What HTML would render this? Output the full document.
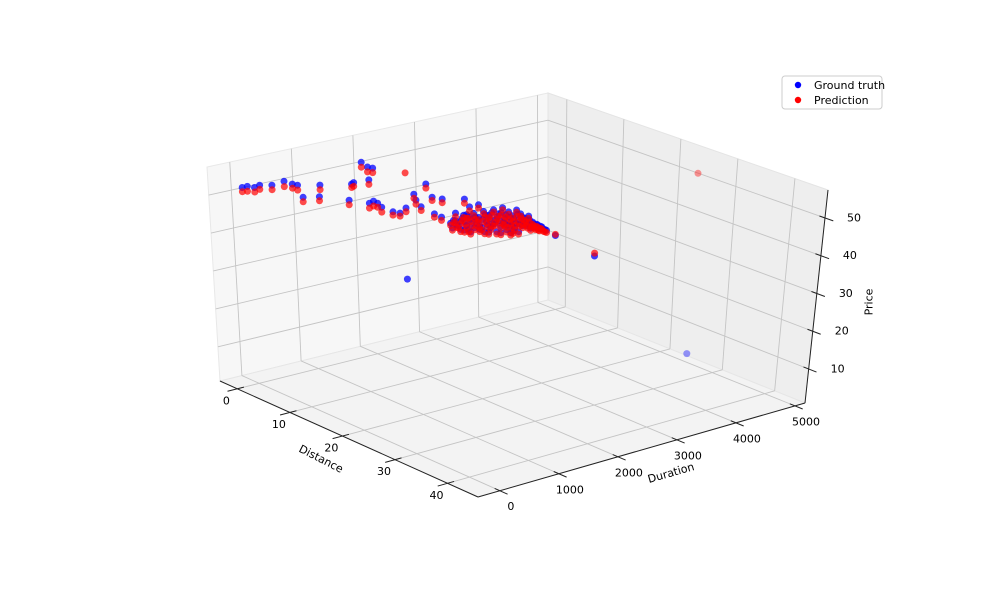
<!DOCTYPE html>
<html><head><meta charset="utf-8"><style>
html,body{margin:0;padding:0;background:#fff}
svg{display:block;font-family:"DejaVu Sans","Liberation Sans",sans-serif}
</style></head><body>
<svg id="chart" width="986" height="592" viewBox="0 0 986 592" xmlns="http://www.w3.org/2000/svg">
<g id="panes"></g>
<g id="grid"></g>
<g id="axes"></g>
<g id="points"></g>
<g>
<rect x="782" y="76" width="100" height="33" rx="3" fill="#fff" fill-opacity="0.8" stroke="#ccc" stroke-width="1"/>
<g>
<circle cx="798" cy="85" r="3.2" fill="#0000ff"/>
<text x="814" y="89" font-size="11" fill="#000">Ground truth</text></g>
<g>
<circle cx="798" cy="100" r="3.2" fill="#ff0000"/>
<text x="814" y="104" font-size="11" fill="#000">Prediction</text></g>
</g>
</svg>
<script>
// ---- data ----
const distance = [1,1,1,1,1,1,1,1,1,1,1,1,1,1,1,1,1,1,1,1,1,1,1,1,1,1,1,1,1,1,1,1,1,1,1,1,1,1,
 1,26.2,9,1,
 1,1,1,1,1,1,1,1,1,1,1,1,1,1,1,1,1,1,1,1,1,1,1,1,1,1,1,1,1,1,1,1,1,1,1,1,1,1,1,1,1,1,1,1,1,1,1,1,1,1,
 1,1,1,1,1,1,1,1,1,1,1,1,1,1,1,1,1,1,1,1,1,1,1,1,1,1,1,1,1,1,1,1,1,1,1,1,1,1,1,1,1,1,1,1,1,1];
const duration = [-205,-122,-6,77,275,474,606,689,771,1052,1036,1565,1598,1516,1731,1830,1913,1846,1846,1913,1979,2045,2227,2343,2442,2574,2607,2690,2773,2872,2905,3021,3037,3252,3401,3434,3484,3633,
 2440,4893,4838,4906,
 3170,3219,3269,3335,3385,3434,3500,3550,3600,3633,3682,3715,3765,3798,3831,3881,3914,3963,3996,4030,4063,4096,4129,4162,4195,4228,4261,4294,4327,4360,4394,4427,4460,4493,4526,4559,4592,4625,4658,4708,4758,3467,3732,3930,4162,4294,3864,4063,3567,3335,
 3200,3250,3300,3360,3410,3460,3520,3575,3610,3650,3700,3740,3780,3820,3850,3895,3940,3980,4010,4045,4080,4110,4145,4180,4210,4245,4275,4310,4345,4375,4410,4445,4475,4510,4545,4575,4610,4640,4680,4730,3500,3800,4000,4200,3650,3400];
const priceTruth = [53.9,53.9,53.2,53.5,52.8,53.1,51.9,51.3,47.8,50.0,47.0,48.4,48.7,44.3,53.6,52.0,51.4,48.5,42.3,42.6,41.8,40.5,38.6,37.8,38.8,42.0,40.3,38.2,44.0,40.1,35.5,34.2,39.0,34.4,37.6,33.3,35.2,35.2,
 19.8,4.4,21.2,22.0,
 32.0,32.6,31.1,31.9,33.3,30.4,31.8,33.2,30.3,31.8,28.9,33.1,30.2,31.7,28.3,32.9,30.1,31.5,28.1,32.9,30.0,26.7,31.4,28.6,30.1,26.7,31.4,28.6,30.1,26.8,28.7,27.0,29.0,25.6,27.1,25.9,26.3,25.1,25.5,24.5,24.0,29.2,27.6,26.8,25.6,25.4,29.2,28.4,29.3,29.7,
 30.6,32.4,30.8,32.6,31.4,32.8,30.6,32.1,31.2,29.6,31.0,32.1,29.2,30.8,32.2,29.1,30.8,29.6,31.6,28.9,30.8,27.9,29.9,27.5,29.2,27.9,30.2,27.4,29.3,27.6,28.1,26.4,27.9,26.4,26.6,25.5,26.0,24.9,25.2,24.3,28.4,27.2,26.3,25.9,28.5,29.3];
const pricePred = [52.8,52.6,52.0,52.4,51.6,51.7,50.8,50.0,46.6,48.8,45.9,47.5,47.7,43.1,52.3,50.7,50.2,47.3,41.0,41.3,40.7,39.2,37.7,37.0,37.8,40.9,39.2,37.2,42.9,39.2,34.6,33.3,38.0,33.4,36.5,32.4,34.1,34.3,
 48.2,52.6,22.0,22.3,
 31.4,32.0,30.5,31.3,32.7,29.8,31.2,32.6,29.7,31.2,28.3,32.5,29.6,31.1,27.7,32.3,29.5,30.9,27.5,32.3,29.4,26.1,30.8,28.0,29.5,26.1,30.8,28.0,29.5,26.2,28.1,26.4,28.4,25.0,26.5,25.3,25.7,24.5,24.9,23.9,23.4,28.6,27.0,26.2,25.0,24.8,28.6,27.8,28.7,29.1,
 30.0,31.8,30.2,32.0,30.8,32.2,30.0,31.5,30.6,29.0,30.4,31.5,28.6,30.2,31.6,28.5,30.2,29.0,31.0,28.3,30.2,27.3,29.3,26.9,28.6,27.3,29.6,26.8,28.7,27.0,27.5,25.8,27.3,25.8,26.0,24.9,25.4,24.3,24.6,23.7,27.8,26.6,25.7,25.3,27.9,28.7];
const distTicks = [0,10,20,30,40];
const durTicks = [0,1000,2000,3000,4000,5000];
const priceTicks = [10,20,30,40,50];

// ---- projection ----
const DR=[-3.3,45.8], TR=[-370,5170], PR=[1,57.4];
const C={c000:[220,381],c100:[478,497],c010:[548,300],c110:[805,403],c001:[207,167],c101:[485,275],c011:[548,93],c111:[828,190]};
function P(d,t,p){
  const u=(d-DR[0])/(DR[1]-DR[0]), v=(t-TR[0])/(TR[1]-TR[0]), w=(p-PR[0])/(PR[1]-PR[0]);
  const r=[0,0];
  for(let k=0;k<2;k++){
    r[k]=(1-u)*(1-v)*(1-w)*C.c000[k]+u*(1-v)*(1-w)*C.c100[k]+(1-u)*v*(1-w)*C.c010[k]+u*v*(1-w)*C.c110[k]
        +(1-u)*(1-v)*w*C.c001[k]+u*(1-v)*w*C.c101[k]+(1-u)*v*w*C.c011[k]+u*v*w*C.c111[k];
  }
  return r;
}
const NS='http://www.w3.org/2000/svg';
function mk(tag,attrs,parent){const e=document.createElementNS(NS,tag);for(const k in attrs)e.setAttribute(k,attrs[k]);parent.appendChild(e);return e;}
const panes=document.getElementById('panes'),grid=document.getElementById('grid'),axes=document.getElementById('axes'),pts=document.getElementById('points');
function poly(list){return list.map(q=>q.join(',')).join(' ');}
const [d0,d1]=DR,[t0,t1]=TR,[p0,p1]=PR;
let e;
e=mk('polygon',{points:poly([P(d0,t0,p0),P(d0,t1,p0),P(d0,t1,p1),P(d0,t0,p1)]),fill:'#f7f7f7',stroke:'#e8e8e8'},panes);


e=mk('polygon',{points:poly([P(d0,t1,p0),P(d1,t1,p0),P(d1,t1,p1),P(d0,t1,p1)]),fill:'#eeeeee',stroke:'#e4e4e4'},panes);


e=mk('polygon',{points:poly([P(d0,t0,p0),P(d1,t0,p0),P(d1,t1,p0),P(d0,t1,p0)]),fill:'#f3f3f3',stroke:'#e6e6e6'},panes);


function gl(a,b){const l=mk('line',{x1:a[0],y1:a[1],x2:b[0],y2:b[1],stroke:'#c4c4c4','stroke-width':0.9},grid);

}
durTicks.forEach(t=>{gl(P(d0,t,p0),P(d0,t,p1));gl(P(d0,t,p0),P(d1,t,p0));});
priceTicks.forEach(p=>{gl(P(d0,t0,p),P(d0,t1,p));gl(P(d0,t1,p),P(d1,t1,p));});
distTicks.forEach(d=>{gl(P(d,t1,p0),P(d,t1,p1));gl(P(d,t0,p0),P(d,t1,p0));});
function al(a,b,name){const l=mk('line',{x1:a[0],y1:a[1],x2:b[0],y2:b[1],stroke:'#222','stroke-width':1},axes);

}
al(P(d0,t0,p0),P(d1,t0,p0),'distance-axis-line');
al(P(d1,t0,p0),P(d1,t1,p0),'duration-axis-line');
al(P(d1,t1,p0),P(d1,t1,p1),'price-axis-line');
function tx(x,y,s,name,extra){const t=mk('text',Object.assign({x:x,y:y,'font-size':11,fill:'#000','text-anchor':'middle','dominant-baseline':'central'},extra||{}),axes);t.textContent=s;

return t;}
const dSpan=DR[1]-DR[0],tSpan=TR[1]-TR[0];
distTicks.forEach(d=>{const a=P(d,t0+0.02*tSpan,p0),b=P(d,t0-0.03*tSpan,p0);al(a,b,'distance-tick');const q=P(d,t0,p0);tx(q[0]-11,q[1]+12,String(d),'distance-tick-label');});
durTicks.forEach(t=>{const a=P(d1-0.02*dSpan,t,p0),b=P(d1+0.03*dSpan,t,p0);al(a,b,'duration-tick');const q=P(d1,t,p0);tx(q[0]+11,q[1]+16,String(t),'duration-tick-label');});
priceTicks.forEach(p=>{const a=P(d1-0.02*dSpan,t1,p),b=P(d1+0.03*dSpan,t1,p);al(a,b,'price-tick');const q=P(d1,t1,p);tx(q[0]+29,q[1],String(p),'price-tick-label');});
tx(321,459,'Distance','x-axis-title',{transform:'rotate(27 321 459)'});
tx(671,473,'Duration','y-axis-title',{transform:'rotate(-16 671 473)'});
tx(869,302,'Price','z-axis-title',{transform:'rotate(-90 869 302)'});
// points
function dot(d,t,p,color,name){const q=P(d,t,p);const far=q[0]>600;
const c=mk('circle',{cx:q[0].toFixed(1),cy:q[1].toFixed(1),r:3.5,fill:color,'fill-opacity':far?0.4:(color==='#0000ff'?0.75:0.7)},pts);

}
for(let i=0;i<distance.length;i++)dot(distance[i],duration[i],priceTruth[i],'#0000ff','ground-truth-point');
for(let i=0;i<distance.length;i++)dot(distance[i],duration[i],pricePred[i],'#ff0000','prediction-point');
</script>
</body></html>
